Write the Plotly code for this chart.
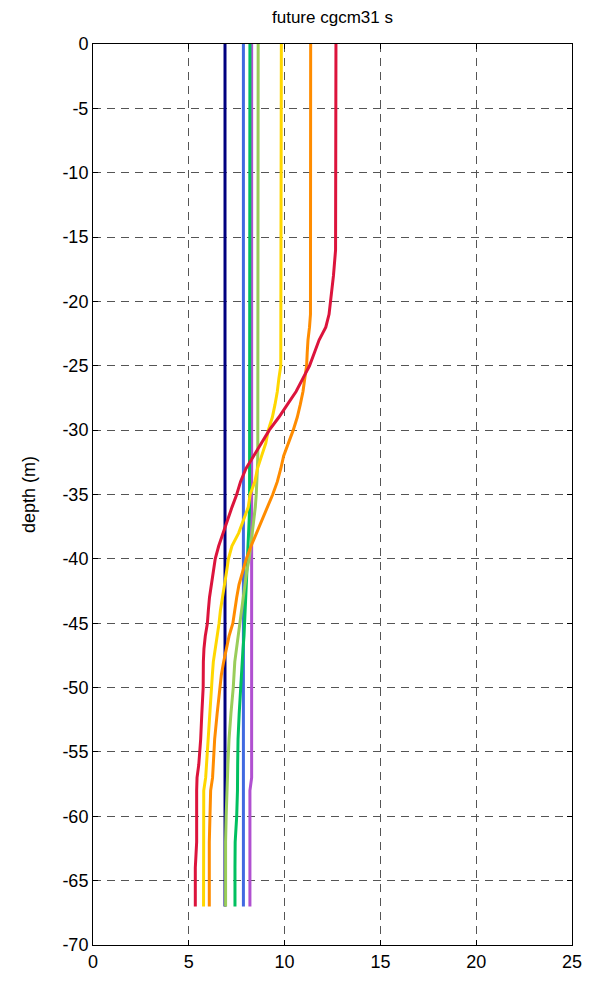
import plotly.graph_objects as go

# depth levels (m), shared by all profiles
depth = [0, 15, 16, 18, 20, 21, 22, 23, 24, 25, 26, 27, 28, 29, 30, 31, 32, 33, 34, 35,
         36, 37, 38, 39, 40, 41, 42, 43, 44, 45, 46, 47, 48, 49, 50, 52, 54, 56, 57, 58,
         60, 62, 64, 67]

navy = [6.89] * 44
blue = [7.85] * 44
purple = [8.28] * 39 + [8.19] * 5
green = [8.19] * 20 + [8.17, 8.15, 8.12, 8.10, 8.08, 8.06, 8.03, 8.00, 7.95, 7.93,
                       7.88, 7.83, 7.78, 7.74, 7.71, 7.63, 7.57, 7.55, 7.55, 7.54,
                       7.50, 7.42, 7.41, 7.41]
lightgreen = [8.62] * 16 + [8.60, 8.58, 8.56, 8.52, 8.47, 8.40, 8.33, 8.25, 8.15, 8.02,
                            7.93, 7.85, 7.75, 7.66, 7.55, 7.47, 7.40, 7.36, 7.32, 7.20,
                            7.10, 7.04, 7.01, 7.00, 6.95, 6.92, 6.92, 6.92]
yellow = [9.83] * 9 + [9.80, 9.70, 9.62, 9.50, 9.36, 9.15, 9.02, 8.80, 8.58, 8.45, 8.20,
                       8.10, 7.85, 7.60, 7.25, 7.07, 6.97, 6.85, 6.74, 6.65, 6.58,
                       6.48, 6.38, 6.28, 6.23, 6.19, 6.10, 6.00, 5.92, 5.88, 5.78,
                       5.77, 5.77, 5.77, 5.77]
orange = [11.36] * 5 + [11.35, 11.30, 11.22, 11.18, 11.15, 11.05, 10.96, 10.82, 10.66, 10.45,
                        10.18, 9.95, 9.80, 9.62, 9.38, 9.10, 8.78, 8.50, 8.25, 8.00,
                        7.80, 7.62, 7.50, 7.40, 7.30, 7.10, 6.95, 6.82, 6.70, 6.62,
                        6.48, 6.35, 6.26, 6.24, 6.14, 6.10, 6.07, 6.07, 6.07]
red = [12.68, 12.68, 12.66, 12.55, 12.42, 12.32, 12.15, 11.80, 11.55, 11.30,
       10.95, 10.60, 10.15, 9.70, 9.20, 8.80, 8.40, 7.98, 7.70, 7.50,
       7.25, 7.02, 6.80, 6.56, 6.38, 6.28, 6.17, 6.08, 6.02, 5.97,
       5.86, 5.79, 5.76, 5.76, 5.75, 5.68, 5.62, 5.52, 5.43, 5.41,
       5.41, 5.41, 5.34, 5.34]

# tick labels (plain hyphen minus, as in the original)
y_ticks = [0, -5, -10, -15, -20, -25, -30, -35, -40, -45, -50, -55, -60, -65, -70]
y_labels = ['0', '-5', '-10', '-15', '-20', '-25', '-30', '-35', '-40', '-45',
            '-50', '-55', '-60', '-65', '-70']
x_ticks = [0, 5, 10, 15, 20, 25]

series = [
    (navy, '#000080'),
    (blue, '#4169E1'),
    (purple, '#B050D0'),
    (green, '#00C060'),
    (lightgreen, '#9ACD5A'),
    (yellow, '#FFD700'),
    (orange, '#FF8C00'),
    (red, '#DC143C'),
]

fig = go.Figure()
for temp, col in series:
    fig.add_trace(go.Scatter(x=temp, y=[-d for d in depth], mode='lines',
                             line=dict(color=col, width=3), showlegend=False))

font = dict(family='Liberation Sans, Arial', size=18, color='black')
axis_style = dict(showline=True, linecolor='black', linewidth=1, mirror='ticks',
                  ticks='inside', ticklen=5, tickcolor='black',
                  showgrid=True, gridcolor='#555555', gridwidth=1, griddash='8px,6px',
                  zeroline=False, tickfont=font)

fig.update_xaxes(range=[0, 25], tickvals=x_ticks, **axis_style)
fig.update_yaxes(range=[-70, 0], tickvals=y_ticks, ticktext=y_labels,
                 title=dict(text='depth (m)', font=font, standoff=22),
                 **axis_style)

fig.update_layout(
    width=580, height=970,
    margin=dict(l=85, r=16, t=36, b=33, autoexpand=False),
    paper_bgcolor='white', plot_bgcolor='white',
    title=dict(text='future cgcm31 s', x=(85 + 479 / 2) / 580, xanchor='center',
               y=1 - 9 / 970, yanchor='middle',
               font=dict(family='Liberation Sans, Arial', size=17, color='black')),
)

fig.write_html("out.html")
